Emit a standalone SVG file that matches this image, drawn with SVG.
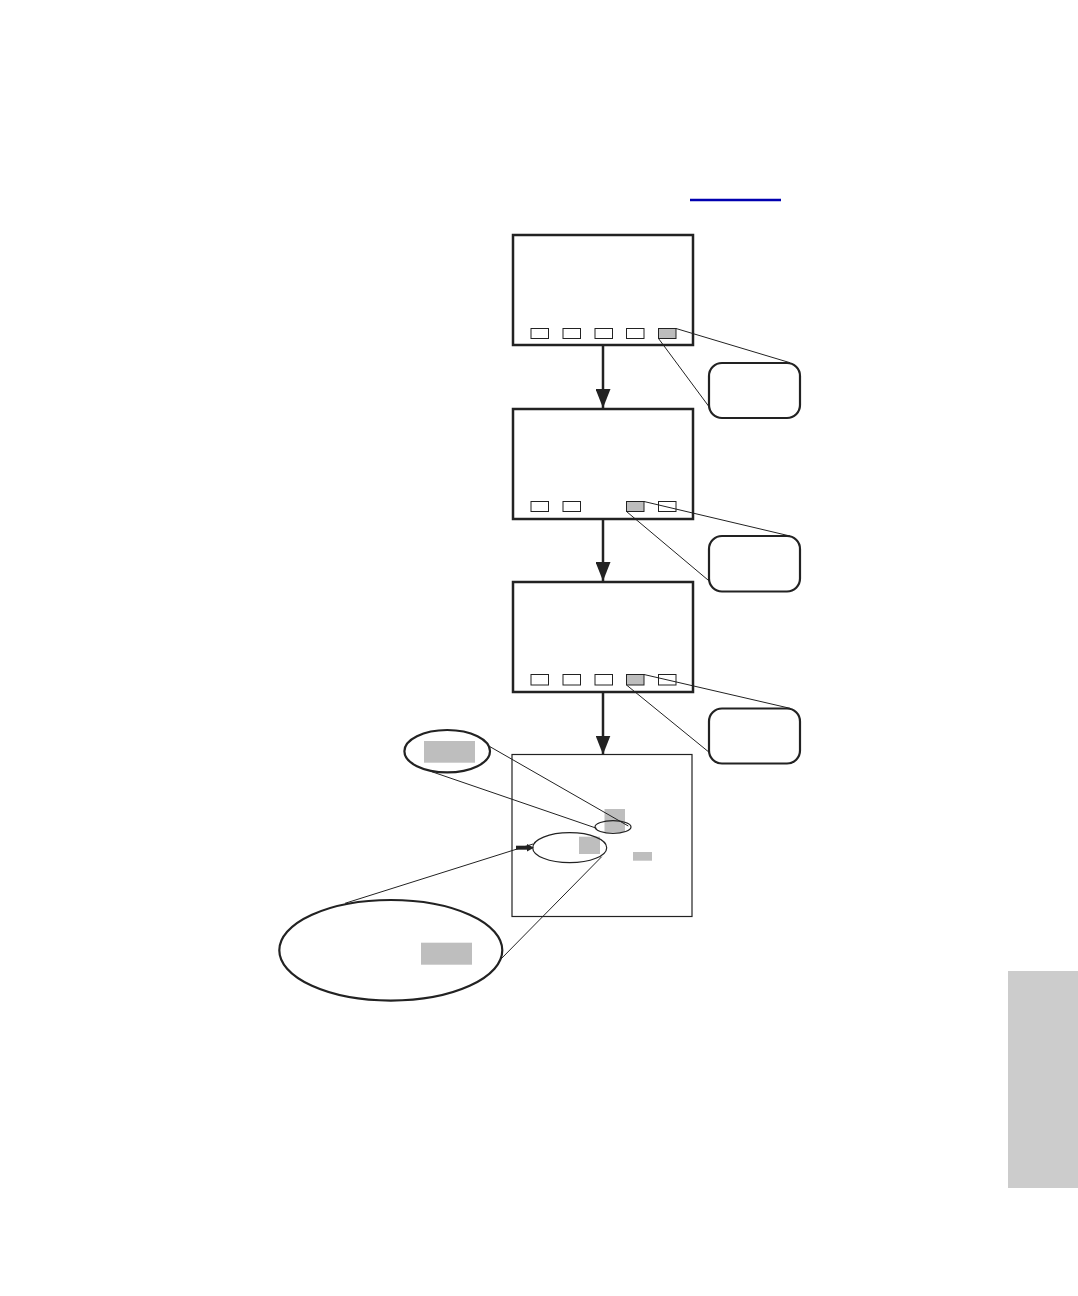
<svg xmlns="http://www.w3.org/2000/svg" width="1078" height="1296" viewBox="0 0 1078 1296">
<style>
.screen{fill:#fff;stroke:#222;stroke-width:2.5}
.screen-thin{fill:#fff;stroke:#222;stroke-width:1.2}
.btn{fill:#fff;stroke:#222;stroke-width:1}
.btn-on{fill:#bdbdbd;stroke:#222;stroke-width:1}
.callout{fill:#fff;stroke:#222;stroke-width:2.2}
.lead{fill:none;stroke:#222;stroke-width:1}
.flow{fill:none;stroke:#222;stroke-width:2.5}
.hl{fill:#bebebe;stroke:none}
</style>
<defs>
<marker id="ah" markerUnits="userSpaceOnUse" markerWidth="19" markerHeight="15" refX="19" refY="7.5" viewBox="0 0 19 15" orient="auto">
<path d="M0,0 L19,7.5 L0,15 Z" fill="#222"/>
</marker>
</defs>
<rect x="1008" y="971" width="70" height="217" fill="#cccccc"/>
<line x1="690" y1="200" x2="781" y2="200" stroke="#0000b0" stroke-width="2.5"/>
<g id="screen1">
<rect class="screen" x="513" y="235" width="180" height="110"/>
<rect class="btn" x="531" y="328.5" width="17.5" height="10"/>
<rect class="btn" x="563" y="328.5" width="17.5" height="10"/>
<rect class="btn" x="595" y="328.5" width="17.5" height="10"/>
<rect class="btn" x="626.5" y="328.5" width="17.5" height="10"/>
<rect class="btn-on" x="658.5" y="328.5" width="17.5" height="10"/>
</g>
<g id="callout1"><rect class="callout" x="709" y="363" width="91" height="55" rx="13"/></g>
<g id="screen2">
<rect class="screen" x="513" y="409" width="180" height="110"/>
<rect class="btn" x="531" y="501.5" width="17.5" height="10"/>
<rect class="btn" x="563" y="501.5" width="17.5" height="10"/>
<rect class="btn-on" x="626.5" y="501.5" width="17.5" height="10"/>
<rect class="btn" x="658.5" y="501.5" width="17.5" height="10"/>
</g>
<g id="callout2"><rect class="callout" x="709" y="536" width="91" height="55.5" rx="13"/></g>
<g id="screen3">
<rect class="screen" x="513" y="582" width="180" height="110"/>
<rect class="btn" x="531" y="674.5" width="17.5" height="10.5"/>
<rect class="btn" x="563" y="674.5" width="17.5" height="10.5"/>
<rect class="btn" x="595" y="674.5" width="17.5" height="10.5"/>
<rect class="btn-on" x="626.5" y="674.5" width="17.5" height="10.5"/>
<rect class="btn" x="658.5" y="674.5" width="17.5" height="10.5"/>
</g>
<g id="callout3"><rect class="callout" x="709" y="708.5" width="91" height="55" rx="13"/></g>
<g id="screen4">
<rect class="screen-thin" x="512" y="754.5" width="180" height="162"/>
<rect class="hl" x="604.5" y="809" width="20.5" height="23"/>
<ellipse fill="none" stroke="#222" stroke-width="1.2" cx="613" cy="827" rx="18" ry="6.3"/>
<rect class="hl" x="579" y="836.7" width="21" height="17.3"/>
<ellipse fill="none" stroke="#222" stroke-width="1.2" cx="569.7" cy="847.7" rx="37" ry="15"/>
<rect class="hl" x="633" y="852" width="19" height="8.7"/>
<line x1="516" y1="847.7" x2="528" y2="847.7" stroke="#222" stroke-width="4"/>
<path d="M527,844 L534,847.7 L527,851.4 Z" fill="#222"/>
</g>
<g id="zoom-small">
<ellipse fill="#fff" stroke="#222" stroke-width="2.2" cx="447.2" cy="751.2" rx="42.8" ry="21.2"/>
<rect class="hl" x="424" y="741" width="51" height="21.7"/>
</g>
<g id="zoom-large">
<ellipse fill="#fff" stroke="#222" stroke-width="2.2" cx="390.8" cy="950.3" rx="111.5" ry="50.3"/>
<rect class="hl" x="421" y="942.7" width="51" height="22"/>
</g>
<g id="connectors">
<line class="flow" x1="603" y1="345" x2="603" y2="408" marker-end="url(#ah)"/>
<line class="flow" x1="603" y1="519" x2="603" y2="581" marker-end="url(#ah)"/>
<line class="flow" x1="603" y1="692" x2="603" y2="754.5" marker-end="url(#ah)"/>
<line class="lead" x1="676" y1="328.5" x2="790" y2="362.7"/>
<line class="lead" x1="658.5" y1="338.5" x2="709" y2="406.7"/>
<line class="lead" x1="644" y1="501.5" x2="790" y2="536"/>
<line class="lead" x1="626.5" y1="511.5" x2="710" y2="581.7"/>
<line class="lead" x1="644" y1="674.5" x2="790" y2="708.3"/>
<line class="lead" x1="626.5" y1="685" x2="710" y2="753"/>
<line class="lead" x1="490" y1="746.7" x2="628.3" y2="826"/>
<line class="lead" x1="431.7" y1="771.7" x2="596.7" y2="828.3"/>
<line class="lead" x1="533" y1="844" x2="345" y2="903.3"/>
<line class="lead" x1="601.7" y1="856.7" x2="500" y2="960"/>
</g>
</svg>
